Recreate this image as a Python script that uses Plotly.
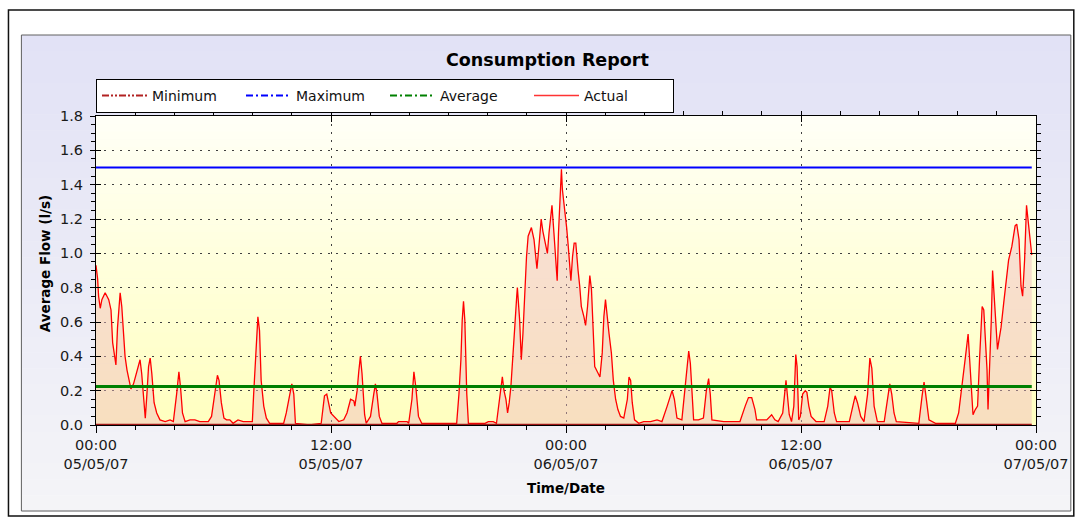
import pandas as pd
import plotly.graph_objects as go

TITLE = "Consumption Report"
X_TITLE = "Time/Date"
Y_TITLE = "Average Flow (l/s)"
START = "2007-05-05 00:00"
END = "2007-05-07 00:00"

SERIES_NAMES = ["Minimum", "Maximum", "Average", "Actual"]
MINIMUM = 0.0
MAXIMUM = 1.5
AVERAGE = 0.225

# minutes after START
minutes = [
    0, 5, 8, 13, 18, 28, 39, 46, 51, 56, 61, 66, 71, 74, 79, 84, 89, 95, 103, 107,
    115, 123, 130, 135, 140, 145, 151, 156, 161, 166, 171, 178, 186, 196, 212, 227,
    237, 247, 254, 259, 265, 273, 288, 303, 318, 334, 344, 354, 364, 372, 377, 384,
    392, 400, 410, 420, 435, 451, 466, 479, 483, 489, 493, 496, 501, 506, 514, 522,
    532, 552, 575, 583, 593, 600, 606, 611, 654, 690, 700, 707,
    719, 734, 744, 759, 769, 780, 790, 793, 800, 805, 810, 815, 823, 828, 841, 851,
    856, 861, 868, 876, 922, 927, 953, 958, 968, 974, 980, 988, 998, 1014, 1029, 1049,
    1105, 1112, 1118, 1122, 1126, 1130, 1136, 1141, 1192, 1202, 1217, 1227, 1234, 1240,
    1245, 1250, 1256, 1261, 1266, 1271, 1278, 1283, 1289, 1291, 1298, 1303, 1308, 1313,
    1319, 1324, 1334, 1342, 1347, 1351, 1357, 1364, 1369, 1377, 1383, 1388, 1392, 1397,
    1403, 1408, 1413, 1417, 1423, 1426,
    1429, 1434, 1439, 1442, 1447, 1452, 1455, 1460, 1465, 1470, 1473, 1477, 1482, 1487,
    1495, 1500, 1506, 1513, 1518, 1523, 1528, 1536, 1544, 1551, 1556, 1561, 1567, 1572,
    1579, 1585, 1592, 1599, 1607, 1617, 1628, 1633, 1638, 1643, 1650, 1663, 1678, 1699,
    1719, 1734, 1750, 1765, 1772, 1780, 1795, 1806, 1816, 1821, 1826, 1831, 1846, 1861,
    1870, 1877, 1882, 1887, 1923, 1973, 1989, 1999, 2009, 2019, 2024, 2055, 2070, 2080,
    2090, 2104, 2114, 2118, 2124, 2131, 2138, 2144, 2148, 2153, 2158, 2165,
    2173, 2178, 2184, 2191, 2206, 2231, 2242, 2249, 2254, 2262, 2269, 2308, 2316, 2326,
    2333, 2343, 2353, 2364, 2371, 2377, 2384, 2394, 2415, 2425, 2432, 2438, 2445, 2452,
    2521, 2531, 2537, 2542, 2552, 2572, 2633, 2643, 2654, 2664, 2672, 2677, 2682, 2687,
    2694, 2701, 2707, 2715, 2720, 2725, 2730, 2733, 2737, 2743, 2747, 2752, 2757, 2762,
    2767, 2773, 2781, 2789, 2796, 2806, 2816, 2821, 2828, 2834, 2839, 2845, 2851, 2857,
    2862, 2867,
]

actual = [
    0.93, 0.85, 0.75, 0.68, 0.73, 0.77, 0.73, 0.67, 0.48, 0.40, 0.35, 0.57, 0.69, 0.77, 0.69, 0.55, 0.40, 0.32, 0.24, 0.21,
    0.24, 0.30, 0.36, 0.38, 0.30, 0.15, 0.04, 0.18, 0.34, 0.39, 0.30, 0.13, 0.07, 0.03, 0.02, 0.03,
    0.02, 0.18, 0.31, 0.22, 0.07, 0.02, 0.03, 0.03, 0.02, 0.02, 0.02, 0.05, 0.17, 0.29, 0.26, 0.13,
    0.04, 0.03, 0.03, 0.01, 0.03, 0.02, 0.02, 0.02, 0.18, 0.40, 0.57, 0.63, 0.55, 0.26, 0.11, 0.04,
    0.01, 0.01, 0.01, 0.07, 0.18, 0.24, 0.18, 0.01, 0.00, 0.01, 0.17, 0.18,
    0.07, 0.04, 0.02, 0.03, 0.07, 0.15, 0.14, 0.11, 0.20, 0.31, 0.40, 0.30, 0.06, 0.01, 0.05, 0.18,
    0.24, 0.18, 0.05, 0.01, 0.01, 0.02, 0.02, 0.01, 0.15, 0.31, 0.22, 0.05, 0.01, 0.01, 0.01, 0.01,
    0.01, 0.18, 0.38, 0.61, 0.72, 0.61, 0.18, 0.01, 0.01, 0.02, 0.02, 0.01, 0.11, 0.22,
    0.28, 0.20, 0.15, 0.07, 0.13, 0.22, 0.40, 0.57, 0.75, 0.80, 0.61, 0.38, 0.53, 0.77,
    0.98, 1.10, 1.15, 1.08, 0.96, 0.91, 1.04, 1.20, 1.13, 1.06, 1.00, 1.12, 1.18, 1.28,
    1.12, 0.98, 0.84, 1.12, 1.40, 1.49,
    1.37, 1.29, 1.19, 1.15, 1.04, 0.92, 0.84, 0.98, 1.06, 1.06, 0.98, 0.90, 0.81, 0.69,
    0.63, 0.58, 0.69, 0.87, 0.79, 0.50, 0.34, 0.31, 0.28, 0.42, 0.63, 0.73, 0.61, 0.53,
    0.42, 0.26, 0.15, 0.09, 0.05, 0.04, 0.15, 0.28, 0.26, 0.13, 0.03, 0.01, 0.02, 0.02,
    0.03, 0.02, 0.11, 0.20, 0.15, 0.04, 0.03, 0.22, 0.43, 0.36, 0.20, 0.03, 0.03, 0.04,
    0.20, 0.27, 0.18, 0.03, 0.02, 0.02, 0.11, 0.16, 0.16, 0.09, 0.03, 0.03, 0.06, 0.03,
    0.02, 0.07, 0.26, 0.18, 0.06, 0.02, 0.11, 0.41, 0.34, 0.03, 0.05, 0.18,
    0.20, 0.19, 0.11, 0.05, 0.02, 0.02, 0.11, 0.22, 0.20, 0.07, 0.02, 0.02, 0.09, 0.17,
    0.13, 0.05, 0.02, 0.18, 0.39, 0.33, 0.11, 0.02, 0.02, 0.15, 0.24, 0.18, 0.07, 0.02,
    0.01, 0.17, 0.25, 0.18, 0.03, 0.01, 0.01, 0.07, 0.26, 0.40, 0.53, 0.38, 0.18, 0.06,
    0.09, 0.11, 0.38, 0.69, 0.67, 0.50, 0.32, 0.09, 0.28, 0.61, 0.90, 0.73, 0.59, 0.44,
    0.50, 0.57, 0.71, 0.86, 0.96, 1.04, 1.16, 1.17, 1.08, 0.81, 0.75, 0.96, 1.28, 1.17,
    1.09, 0.99,
]

Y_RANGE = [0, 1.8]

# ---------------------------------------------------------------- layout maths
W, H = 1081, 517
L, R, T, B = 96, 40, 116, 92
PW, PH = W - L - R, H - T - B


def px(xp):
    return (xp - L) / PW


def py(yp):
    return (H - B - yp) / PH


FONT = "DejaVu Sans"
times = pd.Timestamp(START) + pd.to_timedelta(minutes, unit="min")
span = [times[0], times[-1]]

fig = go.Figure()

# actual consumption (filled), drawn first so reference lines sit on top
fig.add_trace(go.Scatter(x=times, y=actual, mode="lines", name=SERIES_NAMES[3],
                         line=dict(color="#FF0000", width=1.3),
                         fill="tozeroy", fillcolor="rgba(240,185,190,0.45)",
                         showlegend=False))

# reference lines (drawn solid in plot)
ref_vals = [MINIMUM, MAXIMUM, AVERAGE]
ref_cols = ["#A01818", "#0000FF", "#008000"]
ref_w = [2.5, 2, 3]
for name, val, col, w in zip(SERIES_NAMES[:3], ref_vals, ref_cols, ref_w):
    fig.add_trace(go.Scatter(x=span, y=[val, val], mode="lines", name=name,
                             line=dict(color=col, width=w), showlegend=False,
                             hoverinfo="skip"))

# legend entries
leg_dash = ["7px,2px,2px,2px,2px,2px", "7px,3px,2px,3px", "7px,3px,2px,3px", "solid"]
leg_cols = ["#B22222", "#0000FF", "#008000", "#FF3333"]
leg_w = [2, 2, 2, 1.5]
for name, col, d, w in zip(SERIES_NAMES, leg_cols, leg_dash, leg_w):
    fig.add_trace(go.Scatter(x=[None], y=[None], mode="lines", name=name,
                             line=dict(color=col, dash=d, width=w)))

# ---------------------------------------------------------------- backgrounds
shapes = []
# outer white frame
shapes.append(dict(type="rect", xref="paper", yref="paper",
                   x0=px(8), x1=px(1079), y0=py(516), y1=py(10),
                   fillcolor="white", line=dict(color="#111", width=1.5), layer="below"))
# lavender panel gradient
N = 30
top_c = (226, 226, 246)
bot_c = (244, 244, 247)
y_top, y_bot = 35, 511
for i in range(N):
    f = i / (N - 1)
    c = tuple(int(round(top_c[k] + (bot_c[k] - top_c[k]) * f)) for k in range(3))
    ya = y_top + (y_bot - y_top) * i / N
    yb = y_top + (y_bot - y_top) * (i + 1) / N
    shapes.append(dict(type="rect", xref="paper", yref="paper",
                       x0=px(21), x1=px(1076), y0=py(yb + 0.5), y1=py(ya),
                       fillcolor="rgb(%d,%d,%d)" % c, line=dict(width=0), layer="below"))
shapes.append(dict(type="rect", xref="paper", yref="paper",
                   x0=px(21), x1=px(1076), y0=py(511), y1=py(35),
                   fillcolor="rgba(0,0,0,0)", line=dict(color="#606060", width=1), layer="below"))
# plot area yellow gradient
M = 40
ptop = (255, 255, 246)
pbot = (255, 255, 192)
for i in range(M):
    f = i / (M - 1)
    c = tuple(int(round(ptop[k] + (pbot[k] - ptop[k]) * f)) for k in range(3))
    shapes.append(dict(type="rect", xref="paper", yref="paper",
                       x0=0, x1=1, y0=1 - (i + 1) / M - 0.002, y1=1 - i / M,
                       fillcolor="rgb(%d,%d,%d)" % c, line=dict(width=0), layer="below"))

annotations = [
    dict(text="<b>%s</b>" % TITLE, xref="paper", yref="paper", x=px(550), y=py(60),
         showarrow=False, font=dict(family=FONT, size=17.5, color="#000"),
         xanchor="center", yanchor="middle"),
    dict(text="<b>%s</b>" % Y_TITLE, xref="paper", yref="paper", x=px(45), y=py(264),
         showarrow=False, textangle=-90, font=dict(family=FONT, size=13.5, color="#000"),
         xanchor="center", yanchor="middle"),
    dict(text="<b>%s</b>" % X_TITLE, xref="paper", yref="paper", x=px(568), y=py(488),
         showarrow=False, font=dict(family=FONT, size=13.5, color="#000"),
         xanchor="center", yanchor="middle"),
]

GRID = dict(gridcolor="#404040", gridwidth=1, griddash="2px,6px")
tickfont = dict(family=FONT, size=14.5, color="#1a1a1a")
x_common = dict(type="date", range=[START, END], dtick=43200000, tick0=START,
                minor=dict(dtick=7200000, ticklen=4, tickcolor="#000", showgrid=False),
                showline=True, linecolor="#000", linewidth=1, zeroline=False)
y_common = dict(range=Y_RANGE, dtick=0.2, tick0=0,
                minor=dict(dtick=0.05, ticklen=4, tickcolor="#000", showgrid=False),
                showline=True, linecolor="#000", linewidth=1, zeroline=False)

fig.update_layout(
    width=W, height=H,
    margin=dict(l=L, r=R, t=T, b=B, pad=0),
    paper_bgcolor="white", plot_bgcolor="rgba(0,0,0,0)",
    shapes=shapes, annotations=annotations,
    showlegend=True,
    legend=dict(orientation="h", x=0, y=py(96), xanchor="left", yanchor="middle",
                bgcolor="white", bordercolor="#000", borderwidth=1,
                font=dict(family=FONT, size=14, color="#111"),
                entrywidth=84, entrywidthmode="pixels", itemwidth=45,
                tracegroupgap=0),
    xaxis=dict(**x_common, ticks="outside", ticklen=7, tickcolor="#000",
               tickformat="%H:%M<br>%d/%m/%y", tickfont=tickfont, showgrid=True, **GRID),
    xaxis2=dict(**x_common, overlaying="x", side="top", anchor="y", ticks="inside",
                ticklen=6, tickcolor="#000", showticklabels=False, showgrid=False),
    yaxis=dict(**y_common, ticks="outside", ticklen=5, tickcolor="#000",
               tickformat=".1f", tickfont=tickfont, showgrid=True, ticklabelstandoff=4, **GRID),
    yaxis2=dict(**y_common, overlaying="y", side="right", anchor="x", ticks="inside",
                ticklen=6, tickcolor="#000", showticklabels=False, showgrid=False),
    yaxis3=dict(**y_common, overlaying="y", side="left", anchor="x", ticks="inside",
                ticklen=5, tickcolor="#000", showticklabels=False, showgrid=False),
    font=dict(family=FONT),
)
# invisible carriers for overlay axes
fig.add_trace(go.Scatter(x=span, y=[None, None], xaxis="x2", yaxis="y2",
                         showlegend=False, hoverinfo="skip"))
fig.add_trace(go.Scatter(x=span, y=[None, None], xaxis="x", yaxis="y3",
                         showlegend=False, hoverinfo="skip"))

fig.write_html("out.html", config={"displayModeBar": False},
               post_script="document.body.style.margin='0';")
